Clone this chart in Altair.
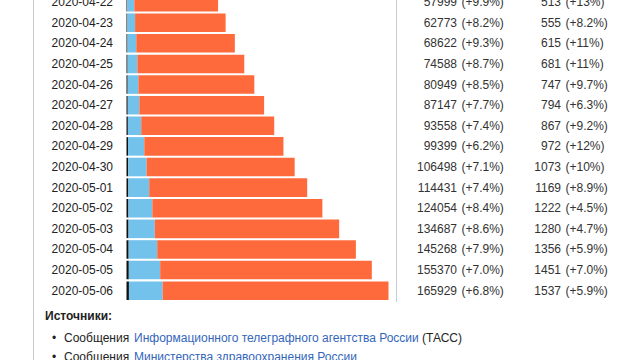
import altair as alt
import pandas as pd

dates = ["2020-04-22", "2020-04-23", "2020-04-24", "2020-04-25", "2020-04-26",
         "2020-04-27", "2020-04-28", "2020-04-29", "2020-04-30", "2020-05-01",
         "2020-05-02", "2020-05-03", "2020-05-04", "2020-05-05", "2020-05-06"]
cases = [57999, 62773, 68622, 74588, 80949, 87147, 93558, 99399, 106498, 114431,
         124054, 134687, 145268, 155370, 165929]
cases_pct = ["+9.9%", "+8.2%", "+9.3%", "+8.7%", "+8.5%", "+7.7%", "+7.4%", "+6.2%",
             "+7.1%", "+7.4%", "+8.4%", "+8.6%", "+7.9%", "+7.0%", "+6.8%"]
deaths = [513, 555, 615, 681, 747, 794, 867, 972, 1073, 1169, 1222, 1280, 1356, 1451, 1537]
deaths_pct = ["+13%", "+8.2%", "+11%", "+11%", "+9.7%", "+6.3%", "+9.2%", "+12%",
              "+10%", "+8.9%", "+4.5%", "+4.7%", "+5.9%", "+7.0%", "+5.9%"]
recovered = [4420, 4891, 5568, 6213, 6767, 7346, 8456, 10286, 11619, 13220,
             15131, 16639, 18095, 19865, 21327]

series_names = ["Смерти", "Выздоровевшие", "Активные"]
series_colors = ["#111111", "#72c2ec", "#ff6a3c"]

rows = []
for d, c, de, r in zip(dates, cases, deaths, recovered):
    rows.append({"date": d, "series": series_names[0], "start": 0, "end": de})
    rows.append({"date": d, "series": series_names[1], "start": de, "end": de + r})
    rows.append({"date": d, "series": series_names[2], "start": de + r, "end": c})
bars_df = pd.DataFrame(rows)

text_df = pd.DataFrame({
    "date": dates,
    "cases": [str(v) for v in cases],
    "cpct": ["(" + p + ")" for p in cases_pct],
    "deaths": [str(v) for v in deaths],
    "dpct": ["(" + p + ")" for p in deaths_pct],
})

FONT = "Liberation Sans"
yscale = alt.Scale(domain=dates, range=[-8.2, 301.0], paddingInner=0.1, paddingOuter=0.05)
yenc = alt.Y("date:N", scale=yscale, axis=None)

bars = alt.Chart(bars_df).mark_bar().encode(
    x=alt.X("start:Q", scale=alt.Scale(domain=[0, max(cases)], range=[126.5, 388.5], nice=False, zero=True), axis=None),
    x2="end:Q",
    y=yenc,
    color=alt.Color("series:N", scale=alt.Scale(domain=series_names, range=series_colors), legend=None),
)

def col_text(field, xpos, align, color="#222222"):
    return alt.Chart(text_df).mark_text(
        align=align, baseline="middle", font=FONT, fontSize=12, color=color
    ).encode(x=alt.value(xpos), y=yenc, text=f"{field}:N")

date_lbl = col_text("date", 113, "right")
c_num = col_text("cases", 457, "right", "#333333")
c_pct = col_text("cpct", 461.5, "left", "#333333")
d_num = col_text("deaths", 561, "right", "#333333")
d_pct = col_text("dpct", 565.5, "left", "#333333")

one = pd.DataFrame({"k": [0]})

def rule(x, y1, y2, color, w=1):
    return alt.Chart(one).mark_rule(color=color, strokeWidth=w).encode(
        x=alt.value(x), y=alt.value(y1), y2=alt.value(y2))

border = rule(33.5, 0, 360, "#c8ccd1")
sep = rule(396.5, 0, 302, "#c8ccd1")

def label(txt, x, y, color="#222222", weight="normal"):
    return alt.Chart(one).mark_text(
        align="left", baseline="middle", font=FONT, fontSize=12, color=color, fontWeight=weight
    ).encode(x=alt.value(x), y=alt.value(y), text=alt.value(txt))

link = "#3366bb"
src = [
    label("Источники:", 45, 316, weight="bold"),
    label("•", 52, 338),
    label("Сообщения", 64, 338),
    label("Информационного телеграфного агентства России", 134, 338, link),
    label("(ТАСС)", 422, 338),
    label("•", 52, 357),
    label("Сообщения", 64, 357),
    label("Министерства здравоохранения России", 134, 357, link),
]

chart = alt.layer(border, sep, bars, date_lbl, c_num, c_pct, d_num, d_pct, *src).properties(
    width=640, height=360, padding=0, autosize=alt.AutoSizeParams(type="none"),
    background="white",
).configure_view(stroke=None)

chart.save("out.html", embed_options={"renderer": "svg", "actions": False})
